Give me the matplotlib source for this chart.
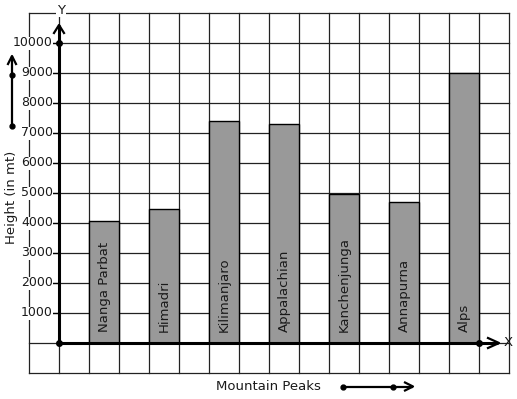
import matplotlib
matplotlib.use("Agg")
import matplotlib.pyplot as plt

# data
peaks = ["Nanga Parbat", "Himadri", "Kilimanjaro", "Appalachian",
         "Kanchenjunga", "Annapurna", "Alps"]
heights = [4080, 4460, 7410, 7290, 4970, 4710, 9000]
bar_pos = [1.5, 3.5, 5.5, 7.5, 9.5, 11.5, 13.5]
y_ticks = [1000, 2000, 3000, 4000, 5000, 6000, 7000, 8000, 9000, 10000]

# 1 grid cell = 30 px, 1000 units in y
PX = 1 / 30.0          # x cells per pixel
PY = 1000 / 30.0       # y units per pixel
txt = "#1a1a1a"

fig = plt.figure(figsize=(5.17, 3.99), dpi=100)
ax = fig.add_axes([0, 0, 1, 1])
ax.set_xlim(-59 * PX, (517 - 59) * PX)
ax.set_ylim(-(399 - 343) * PY, 343 * PY)
ax.axis("off")

# grid
for gx in range(-1, 16):
    ax.plot([gx, gx], [-1000, 11000], color="#222222", lw=0.9, zorder=1)
for gy in range(-1000, 11001, 1000):
    ax.plot([-1, 15], [gy, gy], color="#222222", lw=0.9, zorder=1)

# bars
ax.bar(bar_pos, heights, width=1.0, color="#999999", edgecolor="black",
       linewidth=1.0, zorder=2)
for x, name in zip(bar_pos, peaks):
    ax.text(x, 370, name, rotation=90, ha="center", va="bottom",
            fontsize=9.5, color=txt, zorder=3)

# axes lines
ax.plot([0, 0], [0, 318 * PY], color="black", lw=2.2, zorder=4,
        solid_capstyle="butt")
ax.plot([0, 439 * PX], [0, 0], color="black", lw=2.2, zorder=4,
        solid_capstyle="butt")
# arrow heads (open chevrons)
ax.plot([-5 * PX, 0, 5 * PX], [310 * PY, 318 * PY, 310 * PY],
        color="black", lw=1.6, zorder=4)
ax.plot([429 * PX, 440 * PX, 429 * PX], [5 * PY, 0, -5 * PY],
        color="black", lw=1.6, zorder=4)
ax.plot([0, 0, 14], [0, 10000, 0], "o", color="black", ms=4, zorder=5)

# tick marks and labels
for t in y_ticks:
    ax.plot([-6 * PX, 0], [t, t], color="black", lw=0.9, zorder=3)
    ax.text(-6 * PX, t, str(t), ha="right", va="center", fontsize=9,
            color=txt, zorder=3,
            bbox=dict(facecolor="white", edgecolor="none", pad=0))

ax.text(2 * PX, 333 * PY, "Y", ha="center", va="center", fontsize=9.5,
        color=txt, zorder=3,
        bbox=dict(facecolor="white", edgecolor="none", pad=0.5))
ax.text(449 * PX, 1 * PY, "X", ha="center", va="center", fontsize=9.5,
        color=txt, zorder=3)

# axis titles
ax.text(-47 * PX, (343 - 197) * PY, "Height (in mt)", rotation=90,
        ha="center", va="center", fontsize=9.5, color=txt, zorder=3,
        bbox=dict(facecolor="white", edgecolor="none", pad=0))
ax.text(209 * PX, -43 * PY, "Mountain Peaks", ha="center", va="center",
        fontsize=9.5, color=txt)

# decorative arrows
lx = -47 * PX
ax.plot([lx, lx], [(343 - 126) * PY, (343 - 56) * PY], color="black",
        lw=1.6, solid_capstyle="butt")
ax.plot([lx - 4 * PX, lx, lx + 4 * PX],
        [(343 - 64) * PY, (343 - 56) * PY, (343 - 64) * PY],
        color="black", lw=1.6)
ax.plot([lx, lx], [(343 - 126) * PY, (343 - 75) * PY], "o", color="black",
        ms=3.5)

by = -43.5 * PY
ax.plot([284 * PX, 354 * PX], [by, by], color="black", lw=1.6,
        solid_capstyle="butt")
ax.plot([346 * PX, 354 * PX, 346 * PX], [by + 4 * PY, by, by - 4 * PY],
        color="black", lw=1.6)
ax.plot([284 * PX, 334 * PX], [by, by], "o", color="black", ms=3.5)

fig.savefig("out.png", dpi=100, facecolor="white")
